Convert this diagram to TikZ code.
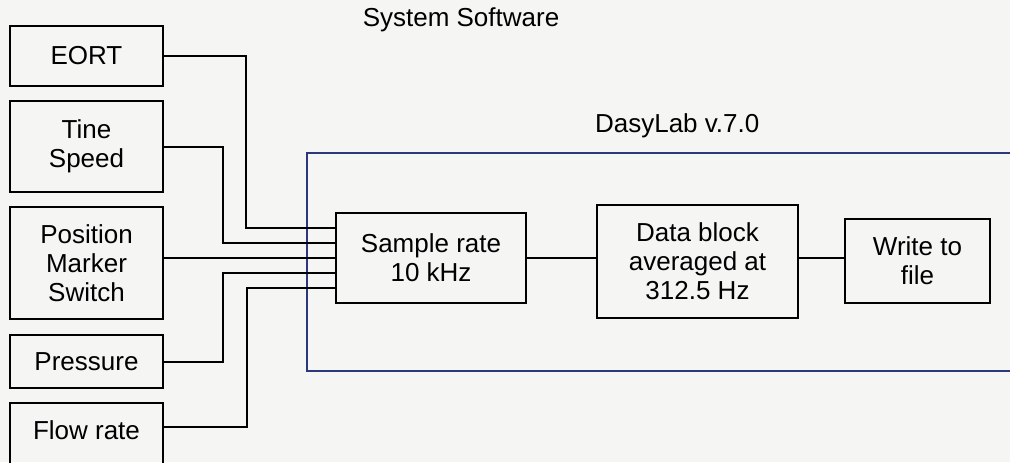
\documentclass[tikz,border=0pt]{standalone}
\usepackage{fontspec}
\setmainfont{Liberation Sans}
\usepackage{xcolor}
\usetikzlibrary{positioning,calc}
\definecolor{dasyblue}{RGB}{45,55,125}
\definecolor{scanbg}{RGB}{245,245,243}

\begin{document}
\begin{tikzpicture}[
    x=0.5pt, y=-0.5pt,
    font=\fontsize{13pt}{14.5pt}\selectfont,
    box/.style={
        draw=black,
        line width=1pt,
        minimum width=76.5pt,
        align=center,
        inner sep=0pt
    },
    proc/.style={
        draw=black,
        line width=1pt,
        align=center,
        inner sep=0pt
    },
    group/.style={
        draw=dasyblue,
        line width=0.9pt
    },
    wire/.style={line width=1pt}
]

\useasboundingbox (0,0) rectangle (1010,462);
\clip (0,0) rectangle (1010,462);
\fill[scanbg] (0,0) rectangle (1010,462);

\node[anchor=base] (syslabel) at (461,26) {System Software};

% DasyLab frame
\draw[group] (307,153) rectangle (1030,371);
\node[anchor=base west] (dasylabel) at (588,132) {DasyLab v.7.0};

% sensors
\node[box, minimum height=30pt] (eort) at (86.5,56) {EORT};

\node[box, minimum height=45.5pt] (tine) at (86.5,146.5)
{Tine\\Speed};

\node[box, minimum height=56pt] (pos) at (86.5,263)
{Position\\Marker\\Switch};

\node[box, minimum height=26.5pt] (pres) at (86.5,361.5) {Pressure};

\node[box, minimum height=33pt, text depth=6pt] (flow) at (86.5,436) {Flow rate};

% processing chain
\node[proc, minimum width=95pt, minimum height=45pt] (sample) at (431,258)
{Sample rate\\10 kHz};

\node[proc, minimum width=100.5pt, minimum height=56.5pt] (block) at (697.5,261.5)
{Data block\\averaged at\\312.5 Hz};

\node[proc, minimum width=72.5pt, minimum height=42pt] (write) at (917.5,261)
{Write to\\file};

\draw[wire] (eort.east) -- ++(82,0) |- ([yshift=15pt]sample.west);
\draw[wire] (tine.east) -- ++(59,0) |- ([yshift=7.5pt]sample.west);
\draw[wire] ([yshift=2.5pt]pos.east) -- (sample.west);
\draw[wire] (pres.east) -- ++(59,0) |- ([yshift=-7.5pt]sample.west);
\draw[wire] ([yshift=4.5pt]flow.east) -- ++(83,0) |- ([yshift=-15pt]sample.west);

\draw[wire] (sample.east) -- (sample.east -| block.west);
\draw[wire] ([yshift=2pt]block.east) -- ([yshift=2pt]block.east -| write.west);

\end{tikzpicture}
\end{document}
